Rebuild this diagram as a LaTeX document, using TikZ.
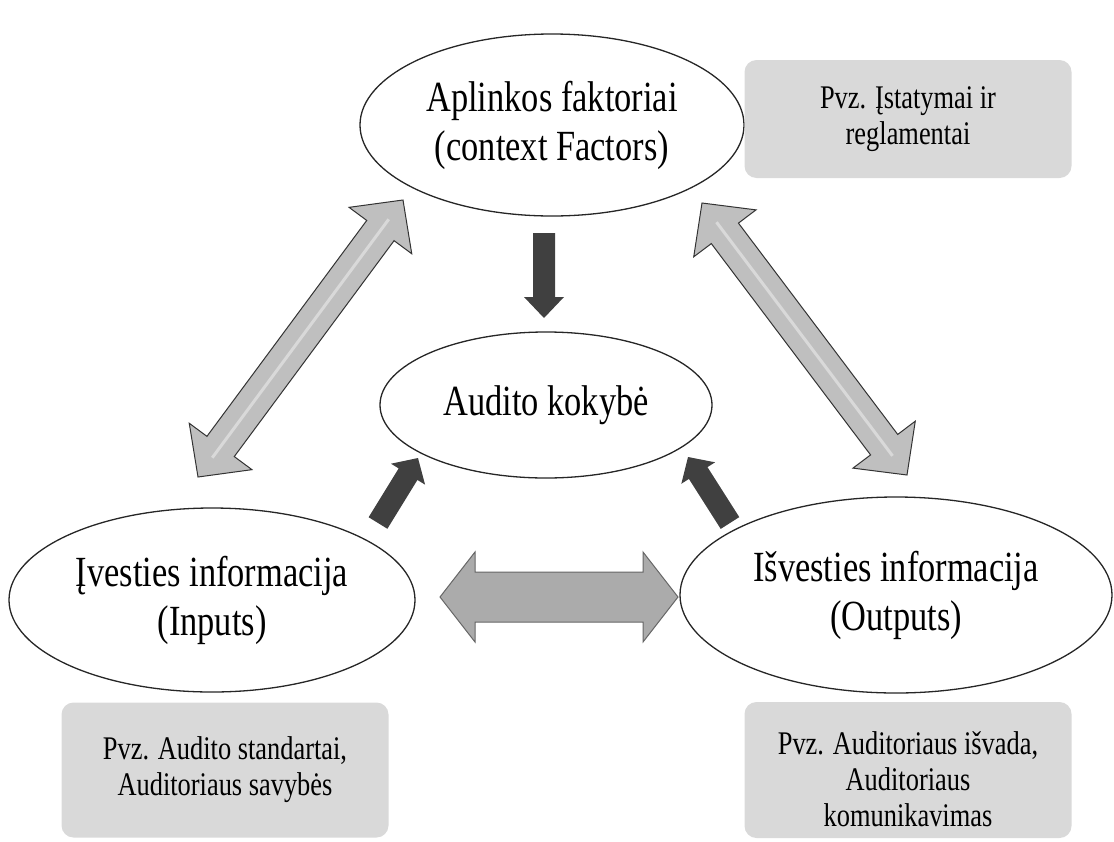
\documentclass[tikz,border=0pt]{standalone}
\usepackage{fontspec}
\setmainfont{Liberation Serif}[FakeStretch=0.8]
\usepackage{tikz}
\usetikzlibrary{calc, shapes.geometric}
\tikzset{
  oval/.style={ellipse, draw=black!85, line width=1.3pt, fill=white, align=center,
               inner sep=0pt, font=\fontsize{43}{49}\selectfont},
  note/.style={rectangle, rounded corners=12pt, fill=black!15, align=center,
               minimum width=327pt, font=\fontsize{33}{36}\selectfont},
  lightarrow/.style={fill=black!25, draw=black!80, line width=1pt},
  midarrow/.style={fill=black!33, draw=black!60, line width=1pt},
  darkarrow/.style={fill=black!75},
  shine/.style={white!85!black, line width=3pt},
}
% #1 style, #2 from, #3 to, #4 head length, #5 head half width, #6 shaft half width
\newcommand{\fatdbl}[6]{%
  \filldraw[#1] (#2) -- ($(#2)!#4!(#3)!#5!90:(#3)$) -- ($(#2)!#4!(#3)!#6!90:(#3)$)
    -- ($(#3)!#4!(#2)!#6!-90:(#2)$) -- ($(#3)!#4!(#2)!#5!-90:(#2)$) -- (#3)
    -- ($(#3)!#4!(#2)!#5!90:(#2)$) -- ($(#3)!#4!(#2)!#6!90:(#2)$)
    -- ($(#2)!#4!(#3)!#6!-90:(#3)$) -- ($(#2)!#4!(#3)!#5!-90:(#3)$) -- cycle;}
\newcommand{\fatone}[6]{%
  \fill[#1] ($(#2)!#6!90:(#3)$) -- ($(#3)!#4!(#2)!#6!-90:(#2)$)
    -- ($(#3)!#4!(#2)!#5!-90:(#2)$) -- (#3) -- ($(#3)!#4!(#2)!#5!90:(#2)$)
    -- ($(#3)!#4!(#2)!#6!90:(#2)$) -- ($(#2)!#6!-90:(#3)$) -- cycle;}

\begin{document}
\begin{tikzpicture}[x=1pt, y=-1pt]
\useasboundingbox (0,0) rectangle (1114,841);
\node[oval, minimum width=384pt, minimum height=182pt] (ctx) at (552,125) {Aplinkos faktoriai\\(context Factors)};
\node[oval, minimum width=332pt, minimum height=146pt] (aq) at (546,405) {Audito kokybė};
\node[oval, minimum width=406pt, minimum height=184pt] (in) at (212,600) {Įvesties informacija\\(Inputs)};
\node[oval, minimum width=432pt, minimum height=196pt] (out) at (896,595) {Išvesties informacija\\(Outputs)};
\node[note, minimum height=118pt] (exctx) at (908,119) {Pvz. Įstatymai ir\\reglamentai};
\node[note, minimum height=135pt] (exin) at (225,770) {Pvz. Audito standartai,\\Auditoriaus savybės};
\node[note, minimum height=136pt] (exout) at (908,770) {\rule{0pt}{42pt}Pvz. Auditoriaus išvada,\\Auditoriaus\\komunikavimas};
\coordinate (lu) at (403,200);
\coordinate (ll) at (198,477);
\coordinate (ru) at (702,203);
\coordinate (rl) at (907,475);
\coordinate (hl) at (440,597);
\coordinate (hr) at (678,597);
\coordinate (dtop) at (544,233);
\coordinate (dtip) at (544,318);
\coordinate (itail) at (378,523);
\coordinate (itip) at (418,458);
\coordinate (otail) at (730,523);
\coordinate (otip) at (688,457);
\fatdbl{lightarrow}{ll}{lu}{38pt}{39pt}{17pt}
\fatdbl{lightarrow}{ru}{rl}{38pt}{39pt}{17pt}
\draw[shine] ($(ll)!24pt!(lu)$) -- ($(lu)!24pt!(ll)$);
\draw[shine] ($(ru)!24pt!(rl)$) -- ($(rl)!24pt!(ru)$);
\fatdbl{midarrow}{hl}{hr}{35pt}{45pt}{25pt}
\fatone{darkarrow}{dtop}{dtip}{21pt}{20pt}{11pt}
\fatone{darkarrow}{itail}{itip}{19pt}{20pt}{11pt}
\fatone{darkarrow}{otail}{otip}{19pt}{20pt}{11pt}
\end{tikzpicture}
\end{document}
